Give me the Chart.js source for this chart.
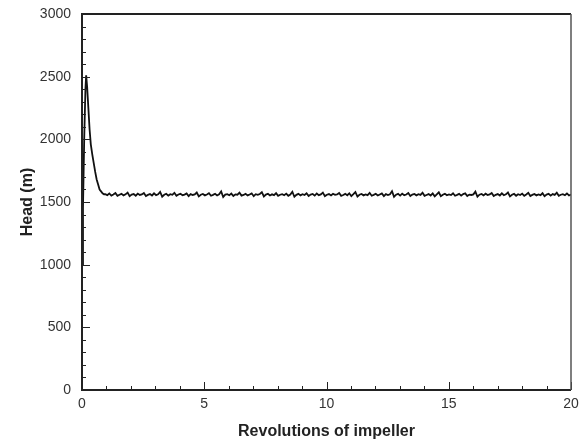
<!DOCTYPE html>
<html><head><meta charset="utf-8">
<script src="https://cdn.jsdelivr.net/npm/chart.js@4.4.1/dist/chart.umd.min.js"></script>
<style>html,body{margin:0;padding:0;background:#fff}</style>
</head><body>
<canvas id="c" width="579" height="446"></canvas>
<script>
// Start-up transient (revolutions, head in m)
const transientX = [0, 0.04, 0.09, 0.14, 0.17, 0.21, 0.26, 0.31, 0.36, 0.42, 0.48, 0.54, 0.60, 0.66, 0.72, 0.78, 0.84, 0.90];
const transientY = [1000, 1450, 2000, 2400, 2510, 2420, 2250, 2080, 1960, 1880, 1810, 1740, 1680, 1640, 1600, 1585, 1570, 1562];
// Steady operation from ~0.95 to 20 revolutions (head in m)
const steadyStart = 0.95;
const steadyEnd = 20;
const steadyY = [1562,1555,1568,1551,1560,1572,1549,1558,1565,1553,1561,1575,1546,1559,1563,1550,1567,1556,1560,1571,1548,1557,1564,1552,1569,1555,1561,1580,1543,1558,1566,1551,1562,1557,1573,1549,1560,1565,1554,1559,1568,1547,1563,1556,1561,1576,1545,1558,1564,1553,1560,1570,1550,1557,1566,1552,1562,1585,1540,1559,1563,1554,1567,1548,1561,1558,1574,1551,1556,1565,1553,1560,1569,1546,1562,1557,1564,1578,1544,1559,1566,1552,1561,1555,1571,1549,1558,1563,1554,1567,1550,1560,1582,1542,1557,1565,1553,1562,1556,1570,1548,1559,1564,1551,1568,1555,1561,1575,1547,1558,1563,1552,1566,1557,1560,1572,1549,1556,1565,1554,1569,1546,1562,1579,1543,1558,1564,1553,1561,1555,1573,1550,1557,1566,1552,1560,1568,1547,1563,1556,1562,1586,1541,1558,1565,1551,1567,1554,1560,1571,1548,1559,1564,1553,1562,1557,1574,1549,1556,1563,1552,1568,1545,1561,1577,1546,1558,1566,1554,1560,1555,1570,1550,1557,1565,1551,1563,1569,1548,1559,1556,1561,1583,1542,1558,1564,1553,1566,1555,1560,1572,1547,1557,1563,1552,1569,1554,1561,1576,1545,1558,1565,1550,1562,1556,1567,1549,1560,1573,1548,1557,1564,1553,1561,1555,1570,1546,1559,1566,1551,1563,1557,1574,1549,1558,1562,1554,1568,1552,1560];
const xTicks = [0, 5, 10, 15, 20];
const yTicks = [0, 500, 1000, 1500, 2000, 2500, 3000];

const points = transientX.map((x, i) => ({x, y: transientY[i]}));
const step = (steadyEnd - steadyStart) / (steadyY.length - 1);
steadyY.forEach((y, i) => points.push({x: steadyStart + i * step, y}));

const FONT = "'Liberation Sans', Arial, sans-serif";

const frameTicks = {
  id: 'frameTicks',
  afterDatasetsDraw(chart) {
    const {ctx, chartArea: a, scales: {x, y}} = chart;
    ctx.save();
    ctx.strokeStyle = '#222';
    ctx.lineWidth = 1;
    for (let v = 0; v <= 3000; v += 100) {
      const py = Math.round(y.getPixelForValue(v)) + 0.5;
      const len = v % 500 === 0 ? 8 : 4;
      ctx.beginPath(); ctx.moveTo(a.left, py); ctx.lineTo(a.left + len, py); ctx.stroke();
    }
    for (let v = 0; v <= 20; v += 1) {
      const px = Math.round(x.getPixelForValue(v)) + 0.5;
      const len = v % 5 === 0 ? 8 : 4;
      ctx.beginPath(); ctx.moveTo(px, a.bottom); ctx.lineTo(px, a.bottom - len); ctx.stroke();
    }
    ctx.lineWidth = 2;
    ctx.strokeStyle = '#222';
    ctx.beginPath();
    ctx.moveTo(a.right, a.top); ctx.lineTo(a.left, a.top); ctx.lineTo(a.left, a.bottom); ctx.lineTo(a.right, a.bottom);
    ctx.stroke();
    ctx.strokeStyle = '#555';
    ctx.lineWidth = 1.5;
    ctx.beginPath(); ctx.moveTo(a.right, a.top); ctx.lineTo(a.right, a.bottom); ctx.stroke();
    ctx.restore();
  }
};

new Chart(document.getElementById('c'), {
  type: 'line',
  data: {datasets: [{data: points, borderColor: '#111', borderWidth: 1.8, pointRadius: 0, tension: 0, fill: false}]},
  options: {
    responsive: false, animation: false, devicePixelRatio: 1,
    layout: {padding: {top: 14, right: 8, left: 0, bottom: 0}},
    plugins: {legend: {display: false}, tooltip: {enabled: false}},
    scales: {
      x: {
        type: 'linear', min: 0, max: 20,
        afterBuildTicks(s) { s.ticks = xTicks.map(v => ({value: v})); },
        ticks: {color: '#333', font: {family: FONT, size: 14}, padding: 6, maxRotation: 0, callback: v => String(v)},
        grid: {display: false, drawTicks: false}, border: {display: false},
        title: {display: true, text: 'Revolutions of impeller', color: '#222', font: {family: FONT, size: 16, weight: 'bold'}, padding: {top: 0, bottom: 5}},
        afterFit(s) { s.height = 56; s.paddingLeft = 0; s.paddingRight = 0; }
      },
      y: {
        min: 0, max: 3000,
        afterBuildTicks(s) { s.ticks = yTicks.map(v => ({value: v})); },
        ticks: {color: '#333', font: {family: FONT, size: 14}, padding: 11, callback: v => String(v)},
        grid: {display: false, drawTicks: false}, border: {display: false},
        title: {display: true, text: 'Head (m)', color: '#222', font: {family: FONT, size: 16, weight: 'bold'}, padding: {top: 18, bottom: 0}},
        afterFit(s) { s.width = 82; s.paddingTop = 0; s.paddingBottom = 0; }
      }
    }
  },
  plugins: [frameTicks]
});
</script>
</body></html>
